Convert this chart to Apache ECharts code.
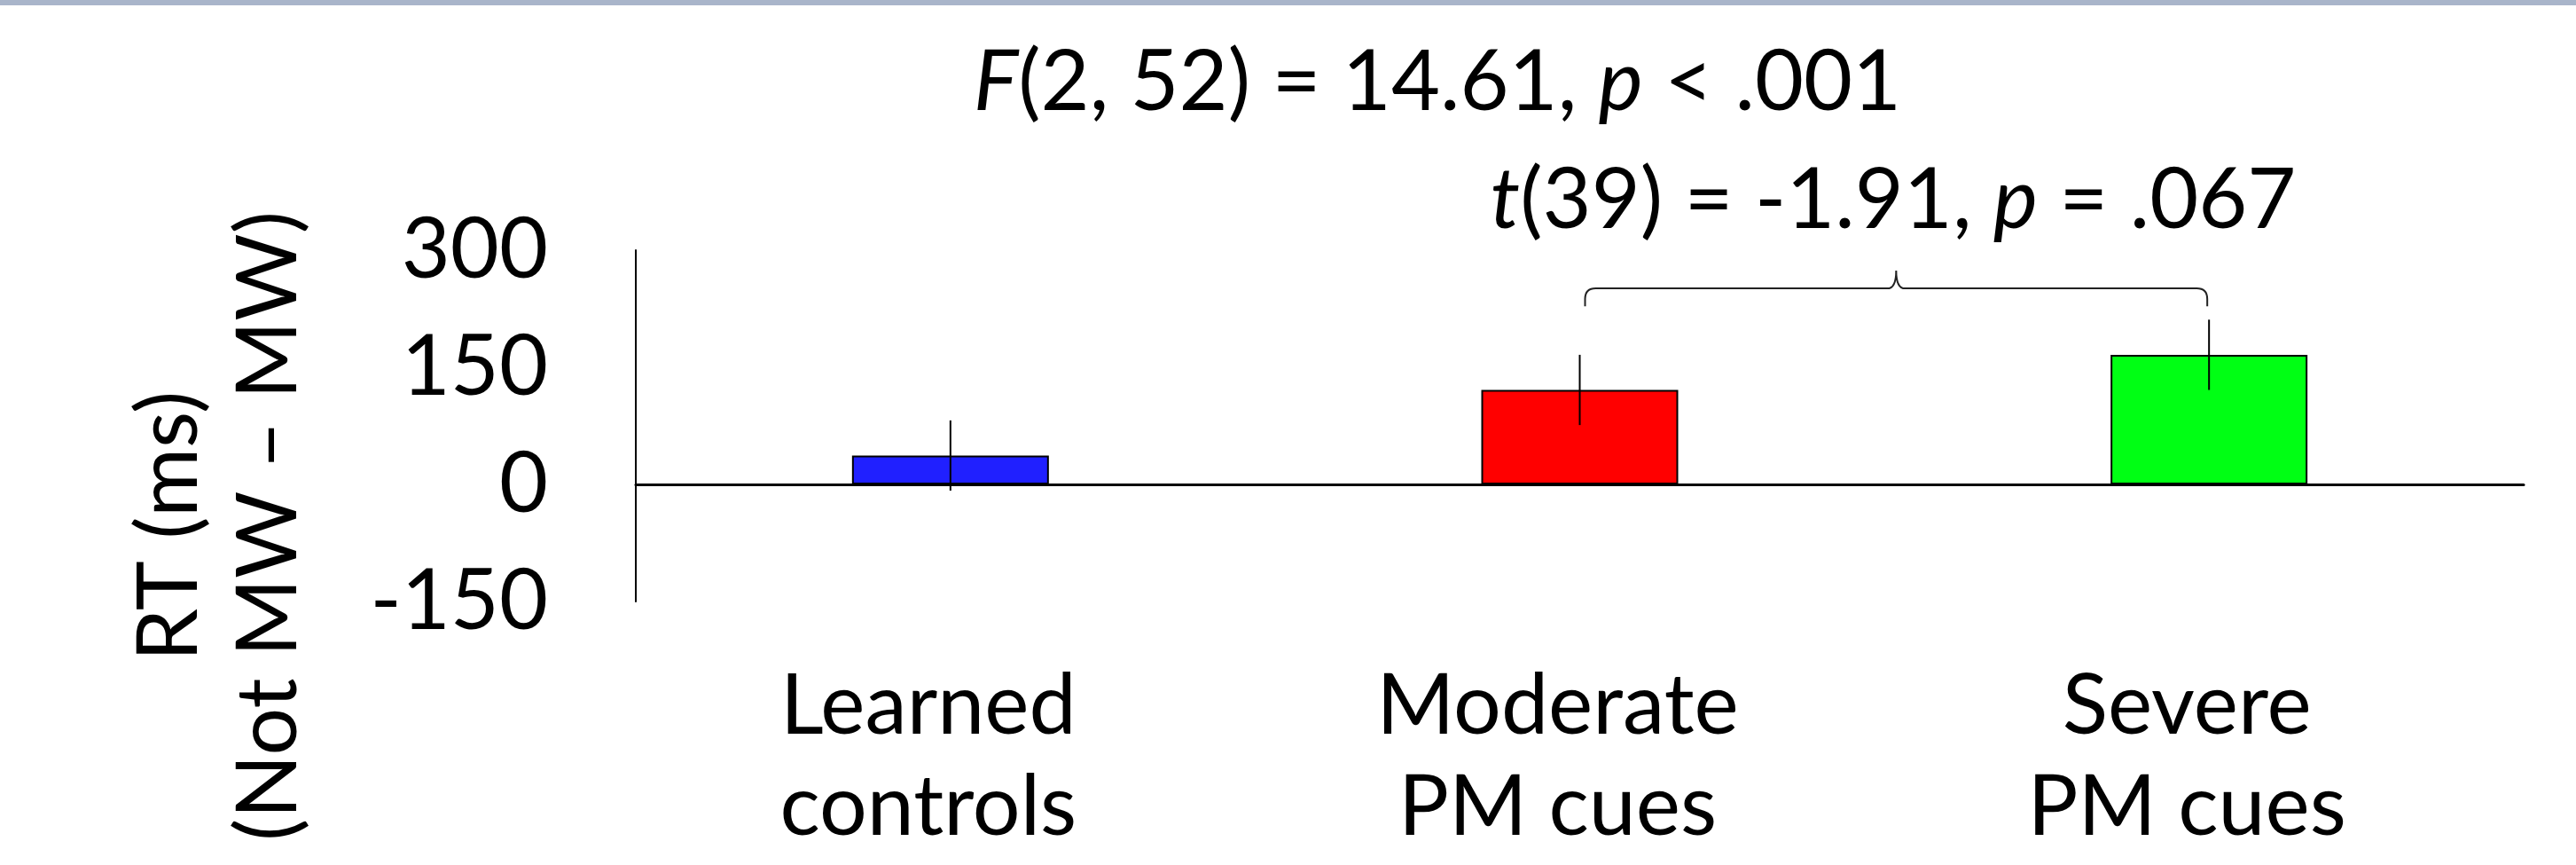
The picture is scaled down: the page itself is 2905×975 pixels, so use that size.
<!DOCTYPE html>
<html>
<head>
<meta charset="utf-8">
<style>
  html, body { margin: 0; padding: 0; background: #ffffff; }
  #chart { width: 2905px; height: 975px; }
</style>
<script src="https://cdn.jsdelivr.net/npm/echarts@6/dist/echarts.min.js"></script>
</head>
<body>
<div id="chart"></div>
<script>
// ---- data ----
const categories = ['Learned\ncontrols', 'Moderate\nPM cues', 'Severe\nPM cues'];
const means = [37, 121, 166];
const errors = [45, 45, 45];
const barColors = ['#2020ff', '#ff0000', '#00ff14'];
const yMin = -150;
const yMax = 300;
const yStep = 150;
// brace between category 1 and 2: [fromIdx, toIdx, endValue, lineValue, peakValue]
const braceData = [[1, 2, 228, 251, 274]];
const fText = '{i|F}(2, 52) = 14.61, {i|p} < .001';
const tText = '{i|t}(39) = -1.91, {i|p} = .067';
const yNameLines = ['RT (ms)', '(Not MW \u2013 MW)'];

const FONT = 'Lato';
const FS = 95;

const chart = echarts.init(document.getElementById('chart'), null, { renderer: 'canvas' });

const richItalic = { i: { fontStyle: 'italic', fontFamily: FONT, fontSize: FS, fill: '#000' },
                     n: { fontFamily: FONT, fontSize: FS, fill: '#000' } };

const option = {
  backgroundColor: '#ffffff',
  animation: false,
  grid: { left: 717, right: 59, top: 282, bottom: 297, containLabel: false },
  xAxis: [
    {
      type: 'category',
      data: categories,
      position: 'bottom',
      axisLine: { show: true, onZero: true, lineStyle: { color: '#000', width: 3 } },
      axisTick: { show: false },
      axisLabel: { show: false },
      splitLine: { show: false }
    },
    {
      type: 'category',
      data: categories,
      position: 'bottom',
      axisLine: { show: false, onZero: false },
      axisTick: { show: false },
      axisLabel: {
        show: true,
        margin: 61,
        color: '#000',
        fontFamily: FONT,
        fontSize: FS,
        lineHeight: 114,
        padding: [0, 50, 0, 0]
      },
      splitLine: { show: false }
    }
  ],
  yAxis: {
    type: 'value',
    min: yMin,
    max: yMax,
    interval: yStep,
    axisLine: { show: true, lineStyle: { color: '#000', width: 2 } },
    axisTick: { show: false },
    splitLine: { show: false },
    axisLabel: { margin: 99, color: '#000', fontFamily: FONT, fontSize: FS }
  },
  series: [
    {
      type: 'bar',
      xAxisIndex: 0,
      barWidth: 222,
      data: means.map((v, i) => ({ value: v, itemStyle: { color: barColors[i] } })),
      itemStyle: { borderColor: '#000', borderWidth: 2 },
      z: 2
    },
    {
      type: 'custom',
      xAxisIndex: 0,
      z: 4,
      encode: { x: 0, y: [1, 2] },
      data: means.map((m, i) => [i, m - errors[i], m + errors[i]]),
      renderItem: function (params, api) {
        const p1 = api.coord([api.value(0), api.value(1)]);
        const p2 = api.coord([api.value(0), api.value(2)]);
        return {
          type: 'line',
          shape: { x1: p1[0], y1: p1[1], x2: p2[0], y2: p2[1] },
          style: { stroke: '#000', lineWidth: 2 }
        };
      }
    },
    {
      type: 'custom',
      xAxisIndex: 0,
      z: 4,
      encode: { x: [0, 1], y: [2, 3, 4] },
      data: braceData,
      renderItem: function (params, api) {
        const a = api.coord([api.value(0), api.value(3)]);
        const b = api.coord([api.value(1), api.value(3)]);
        const yEnd = api.coord([api.value(0), api.value(2)])[1];
        const yTop = api.coord([api.value(0), api.value(4)])[1];
        const x1 = a[0] + 6, x2 = b[0] - 2, yH = a[1];
        const xm = (x1 + x2) / 2;
        const r = 12, s = 10;
        const d = 'M' + x1 + ' ' + yEnd +
          ' L' + x1 + ' ' + (yH + r) +
          ' Q' + x1 + ' ' + yH + ' ' + (x1 + r) + ' ' + yH +
          ' L' + (xm - s) + ' ' + yH +
          ' Q' + xm + ' ' + yH + ' ' + xm + ' ' + yTop +
          ' Q' + xm + ' ' + yH + ' ' + (xm + s) + ' ' + yH +
          ' L' + (x2 - r) + ' ' + yH +
          ' Q' + x2 + ' ' + yH + ' ' + x2 + ' ' + (yH + r) +
          ' L' + x2 + ' ' + yEnd;
        return {
          type: 'path',
          shape: { pathData: d },
          style: { stroke: '#222', lineWidth: 2, fill: null }
        };
      }
    }
  ],
  graphic: [
    {
      type: 'rect', left: 0, top: 0, z: 10,
      shape: { width: 2905, height: 6 },
      style: { fill: '#a9b5ca' }
    },
    {
      type: 'text', x: 1621, y: 93, z: 10,
      style: {
        text: fText, rich: richItalic,
        fontFamily: FONT, fontSize: FS, fill: '#000',
        align: 'center', verticalAlign: 'middle'
      }
    },
    {
      type: 'text', x: 2135, y: 226, z: 10,
      style: {
        text: tText, rich: richItalic,
        fontFamily: FONT, fontSize: FS, fill: '#000',
        align: 'center', verticalAlign: 'middle'
      }
    },
    {
      type: 'text', x: 247, y: 593, z: 10, rotation: Math.PI / 2,
      style: {
        text: yNameLines.join('\n'),
        fontFamily: FONT, fontSize: FS, fill: '#000', lineHeight: 112,
        align: 'center', verticalAlign: 'middle'
      }
    }
  ]
};

chart.setOption(option);
</script>
</body>
</html>
